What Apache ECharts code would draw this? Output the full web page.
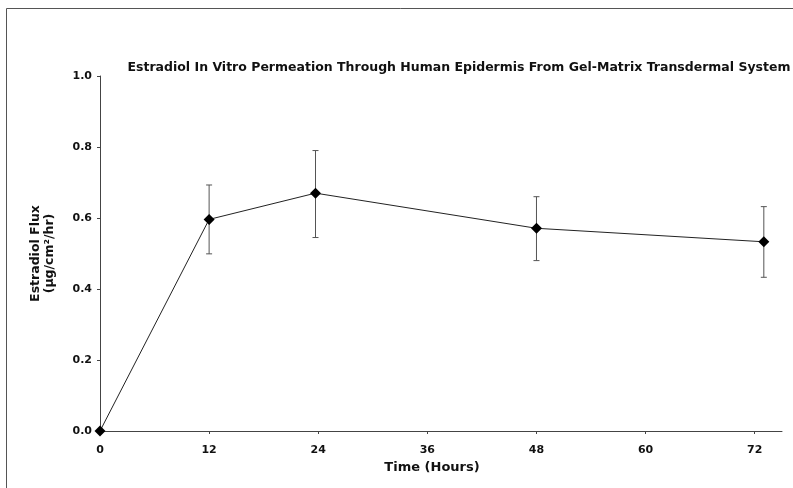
<!DOCTYPE html>
<html>
<head>
<meta charset="utf-8">
<script src="https://cdn.jsdelivr.net/npm/echarts@6/dist/echarts.min.js"></script>
<style>
  html, body { margin: 0; padding: 0; background: #fff; }
  #chart { width: 793px; height: 488px; }
</style>
</head>
<body>
<div id="chart"></div>
<script>
// data
var hours = [0, 12, 23.7, 48, 73];
var flux = [0, 0.596, 0.67, 0.571, 0.533];
var errHigh = [null, 0.693, 0.79, 0.66, 0.632];
var errLow = [null, 0.499, 0.545, 0.48, 0.433];
var xTicks = [0, 12, 24, 36, 48, 60, 72];
var yTicks = [0, 0.2, 0.4, 0.6, 0.8, 1.0];

var font = 'DejaVu Sans, Liberation Sans, Arial, sans-serif';

var lineData = [];
var errData = [];
for (var i = 0; i < hours.length; i++) {
    lineData.push([hours[i], flux[i]]);
    if (errHigh[i] != null) {
        errData.push([hours[i], errLow[i], errHigh[i]]);
    }
}

var myChart = echarts.init(document.getElementById('chart'), null, {renderer: 'canvas'});
var option = {
    backgroundColor: '#fff',
    animation: false,
    title: {
        text: 'Estradiol In Vitro Permeation Through Human Epidermis From Gel-Matrix Transdermal System',
        left: 454,
        textAlign: 'center',
        top: 56,
        textStyle: {fontFamily: font, fontSize: 12.5, fontWeight: 'bold', color: '#111'}
    },
    graphic: [
        {
            type: 'rect',
            shape: {x: 6.5, y: 8.5, width: 820, height: 520},
            style: {fill: 'none', stroke: '#555', lineWidth: 1},
            silent: true
        }
    ],
    grid: {left: 100, top: 76, right: 11, bottom: 57, containLabel: false},
    xAxis: {
        type: 'value',
        min: 0,
        max: 75,
        interval: 12,
        name: 'Time (Hours)',
        nameLocation: 'middle',
        nameGap: 30,
        nameTextStyle: {fontFamily: font, fontSize: 13, fontWeight: 'bold', color: '#111', padding: [0, 18, 0, 0]},
        splitLine: {show: false},
        axisLine: {lineStyle: {color: '#444', width: 1}},
        axisTick: {length: 3, customValues: xTicks, lineStyle: {color: '#444'}},
        axisLabel: {customValues: xTicks, margin: 14, fontFamily: font, fontSize: 11, fontWeight: 'bold', color: '#111'}
    },
    yAxis: {
        type: 'value',
        min: 0,
        max: 1,
        interval: 0.2,
        name: 'Estradiol Flux\n(µg/cm²/hr)',
        nameLocation: 'middle',
        nameGap: 43,
        nameRotate: 90,
        nameTextStyle: {fontFamily: font, fontSize: 12.5, fontWeight: 'bold', color: '#111', lineHeight: 14},
        splitLine: {show: false},
        axisLine: {show: true, lineStyle: {color: '#444', width: 1}},
        axisTick: {show: true, length: 3, customValues: yTicks, lineStyle: {color: '#444'}},
        axisLabel: {
            customValues: yTicks,
            margin: 8,
            fontFamily: font, fontSize: 11, fontWeight: 'bold', color: '#111',
            formatter: function (v) { return v.toFixed(1); }
        }
    },
    series: [
        {
            name: 'error',
            type: 'custom',
            z: 1,
            data: errData,
            renderItem: function (params, api) {
                var x = api.value(0);
                var lo = api.coord([x, api.value(1)]);
                var hi = api.coord([x, api.value(2)]);
                var cap = 3;
                var st = {stroke: '#555', lineWidth: 1};
                return {
                    type: 'group',
                    children: [
                        {type: 'line', shape: {x1: lo[0], y1: lo[1], x2: hi[0], y2: hi[1]}, style: st},
                        {type: 'line', shape: {x1: hi[0] - cap, y1: hi[1], x2: hi[0] + cap, y2: hi[1]}, style: st},
                        {type: 'line', shape: {x1: lo[0] - cap, y1: lo[1], x2: lo[0] + cap, y2: lo[1]}, style: st}
                    ]
                };
            }
        },
        {
            name: 'flux',
            type: 'line',
            z: 2,
            data: lineData,
            symbol: 'diamond',
            symbolSize: 11,
            lineStyle: {color: '#222', width: 1},
            itemStyle: {color: '#000'}
        }
    ]
};
myChart.setOption(option);
</script>
</body>
</html>
